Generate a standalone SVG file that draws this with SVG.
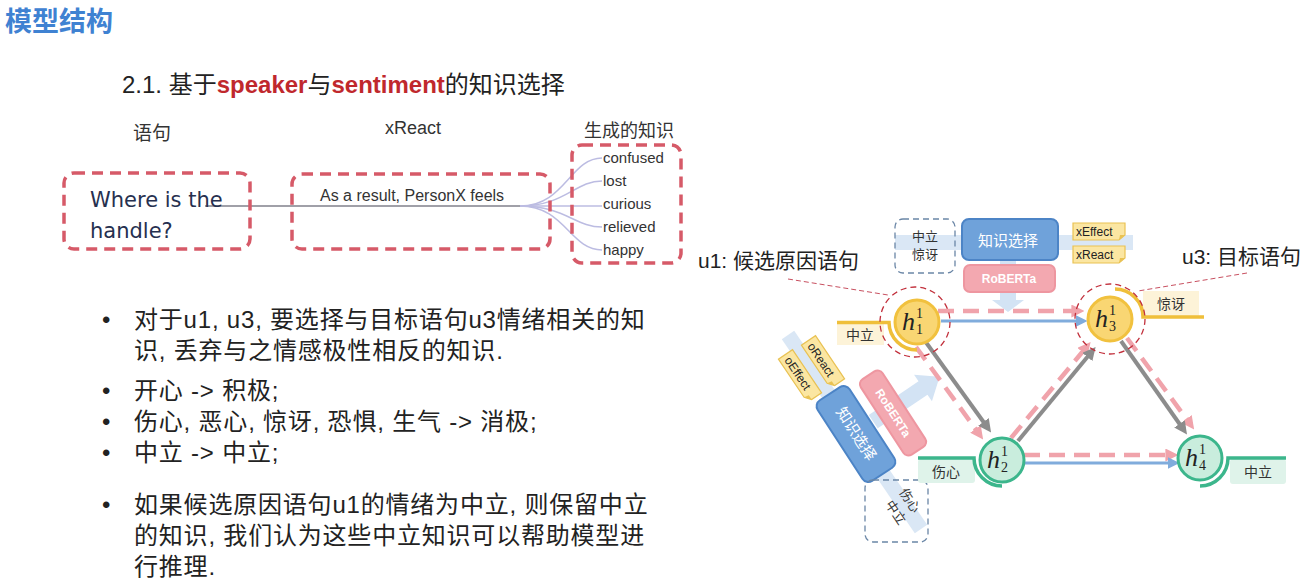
<svg xmlns="http://www.w3.org/2000/svg" width="1309" height="588" viewBox="0 0 1309 588">
<defs>
<style>
.cjk{font-family:"Liberation Sans","Noto Sans CJK SC",sans-serif}
.title{font-family:"Liberation Sans","Noto Sans CJK SC",sans-serif;font-weight:bold;font-size:27px;fill:#3f82d2}
.bul{font-family:"Liberation Sans","Noto Sans CJK SC",sans-serif;font-size:24px;letter-spacing:0.8px;fill:#222}
.dbox{fill:none;stroke:#d65a68;stroke-width:3.5;stroke-dasharray:11 7}
.word{font-family:"Liberation Sans",sans-serif;font-size:15px;fill:#333}
.fan{fill:none;stroke:#bcbce2;stroke-width:1.5}
.h{font-family:"Liberation Serif",serif;font-style:italic;font-size:26px;fill:#222}
.hs{font-family:"Liberation Serif",serif;font-size:14px;fill:#222}
.ny{fill:#f9d673;stroke:#f1c13e;stroke-width:3}
.ng{fill:#c9eddd;stroke:#3cb68c;stroke-width:3}
.arcy{fill:none;stroke:#efbf3a;stroke-width:3.5}
.arcg{fill:none;stroke:#3cb68c;stroke-width:3.5}
.tagy{fill:#fdf3d8}
.tagg{fill:#dff3ea}
.tagt{font-family:"Liberation Sans","Noto Sans CJK SC",sans-serif;font-size:14px;fill:#333;text-anchor:middle}
.ring{fill:none;stroke:#c2303c;stroke-width:1.3;stroke-dasharray:6 4}
.lead{fill:none;stroke:#c85060;stroke-width:1;stroke-dasharray:5 3}
.blue{stroke:#80acdc;stroke-width:3;fill:none}
.pink{stroke:#f0a3ab;stroke-width:4.5;stroke-dasharray:16 9;fill:none}
.gray{stroke:#8c8c8c;stroke-width:4;fill:none}
.band{stroke:#dae7f5;stroke-width:15;fill:none}
.kbox{fill:#6fa2da;stroke:#4c84c6;stroke-width:2}
.rbox{fill:#f3a8b0;stroke:#ee96a0;stroke-width:2}
.kt{font-family:"Liberation Sans","Noto Sans CJK SC",sans-serif;font-size:15px;fill:#fff;text-anchor:middle}
.rt{font-family:"Liberation Sans",sans-serif;font-size:12px;font-weight:bold;fill:#fff;text-anchor:middle}
.gdash{fill:none;stroke:#6a86a6;stroke-width:1.3;stroke-dasharray:6 4}
.small{font-family:"Liberation Sans","Noto Sans CJK SC",sans-serif;font-size:13px;fill:#333;text-anchor:middle}
.tgt{font-family:"Liberation Sans",sans-serif;font-size:12px;fill:#222}
.lbl{font-family:"Liberation Sans","Noto Sans CJK SC",sans-serif;font-size:21px;fill:#222}
</style>
<marker id="mb" viewBox="0 0 10 10" refX="2" refY="5" markerWidth="12" markerHeight="12" markerUnits="userSpaceOnUse" orient="auto"><path d="M0,0 L10,5 L0,10 z" fill="#80acdc"/></marker>
<marker id="mp" viewBox="0 0 10 10" refX="2" refY="5" markerWidth="13" markerHeight="13" markerUnits="userSpaceOnUse" orient="auto"><path d="M0,0 L10,5 L0,10 z" fill="#f0a3ab"/></marker>
<marker id="mg" viewBox="0 0 10 10" refX="2" refY="5" markerWidth="13" markerHeight="13" markerUnits="userSpaceOnUse" orient="auto"><path d="M0,0 L10,5 L0,10 z" fill="#8c8c8c"/></marker>
<g id="tag"><path d="M0,0 H52 V12 L46,17 H0 Z" fill="#fbe6a2" stroke="#e9c253" stroke-width="1.2"/><path d="M46,17 L47,12 L52,12 Z" fill="#e9c253"/></g>
</defs>
<rect width="1309" height="588" fill="#fff"/>

<text x="5" y="31" class="title">模型结构</text>
<text x="122" y="93" class="cjk" font-size="24" fill="#222">2.1. 基于<tspan fill="#c0282d" font-weight="bold">speaker</tspan>与<tspan fill="#c0282d" font-weight="bold">sentiment</tspan>的知识选择</text>

<g id="example">
<text x="133" y="140" class="cjk" font-size="19" fill="#333">语句</text>
<text x="413" y="134" font-family="Liberation Sans,sans-serif" font-size="18" fill="#333" text-anchor="middle">xReact</text>
<text x="584" y="137" class="cjk" font-size="18" fill="#333">生成的知识</text>
<path d="M205,206 H525" stroke="#a0a0a8" stroke-width="2" fill="none"/>
<path class="fan" d="M520,206 C565,206 570,158 602,158"/>
<path class="fan" d="M520,206 C565,206 575,181 602,181"/>
<path class="fan" d="M520,206 H602"/>
<path class="fan" d="M520,206 C565,206 575,227 602,227"/>
<path class="fan" d="M520,206 C565,206 570,250 602,250"/>
<rect class="dbox" x="64" y="173" width="186" height="76" rx="10"/>
<rect class="dbox" x="292" y="174" width="258" height="75" rx="10"/>
<rect class="dbox" x="572" y="145" width="109" height="118" rx="10"/>
<text x="90" y="207" font-family="DejaVu Sans,sans-serif" font-size="21" fill="#26304f">Where is the</text>
<text x="90" y="238" font-family="DejaVu Sans,sans-serif" font-size="21" fill="#26304f">handle?</text>
<text x="320" y="201" font-family="Liberation Sans,sans-serif" font-size="16" fill="#333">As a result, PersonX feels</text>
<text x="603" y="163" class="word">confused</text>
<text x="603" y="186" class="word">lost</text>
<text x="603" y="209" class="word">curious</text>
<text x="603" y="232" class="word">relieved</text>
<text x="603" y="255" class="word">happy</text>
</g>

<g id="bullets">
<text x="102" y="328" class="bul">•</text>
<text x="134" y="328" class="bul">对于u1, u3, 要选择与目标语句u3情绪相关的知</text>
<text x="134" y="359" class="bul">识, 丢弃与之情感极性相反的知识.</text>
<text x="102" y="399" class="bul">•</text>
<text x="134" y="399" class="bul">开心 -&gt; 积极;</text>
<text x="102" y="430" class="bul">•</text>
<text x="134" y="430" class="bul">伤心, 恶心, 惊讶, 恐惧, 生气 -&gt; 消极;</text>
<text x="102" y="461" class="bul">•</text>
<text x="134" y="461" class="bul">中立 -&gt; 中立;</text>
<text x="102" y="513" class="bul">•</text>
<text x="134" y="513" class="bul">如果候选原因语句u1的情绪为中立, 则保留中立</text>
<text x="134" y="544" class="bul">的知识, 我们认为这些中立知识可以帮助模型进</text>
<text x="134" y="575" class="bul">行推理.</text>
</g>

<g id="ks-top">
<path class="band" d="M895,242.5 H1133"/>
<path d="M1000,258 H1016 V300 H1024 L1008,312 L992,300 H1000 Z" fill="#d3e3f4"/>
<rect class="gdash" x="895" y="219" width="60" height="54" rx="8"/>
<text x="925" y="241" class="small" font-size="14">中立</text>
<text x="925" y="259" class="small" font-size="14">惊讶</text>
<rect class="kbox" x="962" y="219" width="96" height="41" rx="7"/>
<text x="1008" y="246" class="kt">知识选择</text>
<rect class="rbox" x="964" y="265" width="91" height="27" rx="6"/>
<text x="1009" y="283" class="rt">RoBERTa</text>
<use href="#tag" x="1073" y="223"/>
<text x="1076" y="236" class="tgt">xEffect</text>
<use href="#tag" x="1073" y="246"/>
<text x="1076" y="259" class="tgt">xReact</text>
</g>

<g id="ks-left">
<path class="band" d="M788,335 L921,529"/>
<path d="M-60,-8 H0 V-16 L20,0 L0,16 V8 H-60 Z" fill="#d3e3f4" transform="translate(923,388) rotate(-34)"/>
<g transform="translate(823,362) rotate(56) translate(-26,-8.5)"><use href="#tag"/><text x="4" y="13" class="tgt">oReact</text></g>
<g transform="translate(800,376) rotate(56) translate(-26,-8.5)"><use href="#tag"/><text x="4" y="13" class="tgt">oEffect</text></g>
<g transform="translate(856,434) rotate(57)"><rect class="kbox" x="-48" y="-19" width="96" height="38" rx="7"/><text x="0" y="5" class="kt">知识选择</text></g>
<g transform="translate(893,413) rotate(57)"><rect class="rbox" x="-45" y="-13" width="90" height="26" rx="6"/><text x="0" y="4" class="rt">RoBERTa</text></g>
<rect class="gdash" x="865" y="480" width="63" height="62" rx="8"/>
<text class="small" transform="translate(906,503) rotate(56)">伤心</text>
<text class="small" transform="translate(892,515) rotate(56)">中立</text>
</g>

<g id="connectors">
<path class="lead" d="M788,279 L888,295"/>
<path class="lead" d="M1247,273 L1138,291"/>
<path class="pink" d="M938,311 H1074" marker-end="url(#mp)"/>
<path class="blue" d="M941,321 H1078" marker-end="url(#mb)"/>
<path class="pink" d="M1024,455 H1168" marker-end="url(#mp)"/>
<path class="blue" d="M1024,463 H1170" marker-end="url(#mb)"/>
<path class="pink" d="M916,347 L977,431" marker-end="url(#mp)"/>
<path class="gray" d="M925,341 L985,424" marker-end="url(#mg)"/>
<path class="pink" d="M1011,438 L1084,350" marker-end="url(#mp)"/>
<path class="gray" d="M1018,441 L1089,355" marker-end="url(#mg)"/>
<path class="pink" d="M1127,338 L1188,421" marker-end="url(#mp)"/>
<path class="gray" d="M1121,341 L1181,426" marker-end="url(#mg)"/>
</g>

<g id="h1">
<rect class="tagy" x="837" y="323" width="47" height="22"/>
<path class="arcy" d="M837,322.5 H889 A28,28 0 0 0 917,350"/>
<text x="860" y="340" class="tagt">中立</text>
<circle class="ny" cx="917" cy="322" r="22"/>
<circle class="ring" cx="915" cy="322" r="35"/>
<text x="902" y="330" class="h">h</text><text x="916" y="318" class="hs">1</text><text x="916" y="334" class="hs">1</text>
<text x="698" y="268" class="lbl" font-size="22">u1: 候选原因语句</text>
</g>

<g id="h3">
<rect class="tagy" x="1143" y="291" width="56" height="25"/>
<path class="arcy" d="M1110,290 A28,28 0 0 1 1138,318 H1199" transform="translate(5,-1)"/>
<text x="1171" y="309" class="tagt">惊讶</text>
<circle class="ny" cx="1110" cy="319" r="22"/>
<circle class="ring" cx="1110" cy="319" r="35"/>
<text x="1095" y="327" class="h">h</text><text x="1109" y="315" class="hs">1</text><text x="1109" y="331" class="hs">3</text>
<text x="1182" y="264" class="lbl">u3: 目标语句</text>
</g>

<g id="h2">
<rect class="tagg" x="918" y="459" width="57" height="24" rx="3"/>
<path class="arcg" d="M918,458 H974 A28,28 0 0 0 1002,486"/>
<text x="946" y="477" class="tagt">伤心</text>
<circle class="ng" cx="1002" cy="460" r="22"/>
<text x="987" y="468" class="h">h</text><text x="1001" y="456" class="hs">1</text><text x="1001" y="472" class="hs">2</text>
</g>

<g id="h4">
<rect class="tagg" x="1230" y="459" width="56" height="25" rx="3"/>
<path class="arcg" d="M1200,486 A28,28 0 0 0 1228,458 H1286"/>
<text x="1258" y="477" class="tagt">中立</text>
<circle class="ng" cx="1200" cy="458" r="22"/>
<text x="1185" y="466" class="h">h</text><text x="1199" y="454" class="hs">1</text><text x="1199" y="470" class="hs">4</text>
</g>
</svg>
